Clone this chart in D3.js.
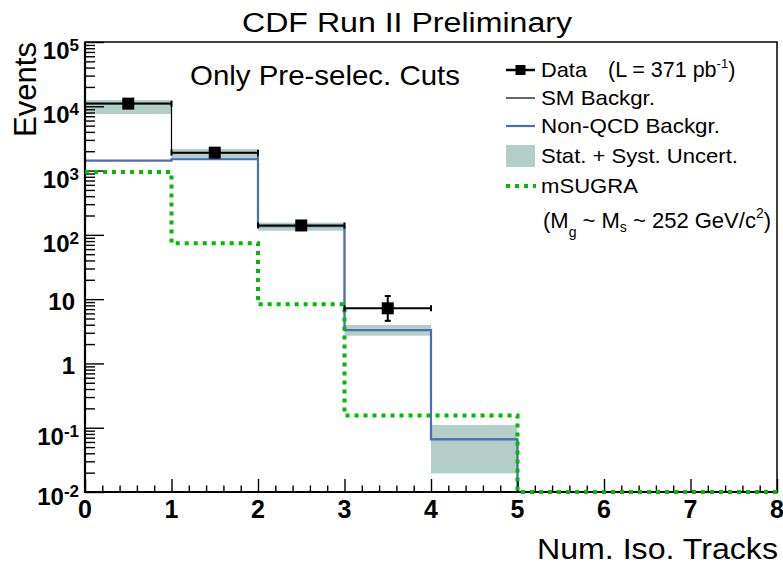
<!DOCTYPE html>
<html>
<head>
<meta charset="utf-8">
<script src="https://cdn.jsdelivr.net/npm/d3@7"></script>
<style>
  html, body { margin: 0; padding: 0; background: #fff; }
  svg { display: block; font-family: "Liberation Sans", Arial, Helvetica, sans-serif; }
</style>
</head>
<body>
<svg id="chart" width="783" height="568"></svg>
<script>
// ---------------- data ----------------
const binEdges = [0, 1, 2, 3, 4, 5, 6, 7, 8];
const dataValues = [11000, 1900, 140, 7.2];
const dataErrLow = [110, 44, 12, 2.6];
const dataErrHigh = [110, 44, 12, 4.0];
const smBackground = [11000, 1900, 137, 3.3, 0.066, 0, 0, 0];
const nonQcdBackground = [1425, 1500, 137, 3.3, 0.066, 0, 0, 0];
const uncertLow = [7600, 1513, 116, 2.7, 0.0195];
const uncertHigh = [12500, 2170, 155, 3.97, 0.11];
const msugra = [950, 74, 8.3, 0.155, 0.155, 0, 0, 0];
const xTickValues = [0, 1, 2, 3, 4, 5, 6, 7, 8];
const xTickLabels = ["0", "1", "2", "3", "4", "5", "6", "7", "8"];
const yTickValues = [1e-2, 1e-1, 1, 10, 1e2, 1e3, 1e4, 1e5];
const yTickBase = ["10", "10", "1", "10", "10", "10", "10", "10"];
const yTickExp = ["-2", "-1", "", "", "2", "3", "4", "5"];
const legendLabels = ["Data", "SM Backgr.", "Non-QCD Backgr.", "Stat. + Syst. Uncert.", "mSUGRA"];

// ---------------- layout ----------------
const L = 85, R = 777, T = 42, B = 492;
const yMin = 1e-2, yMax = 1e5;
const x = d3.scaleLinear().domain([0, 8]).range([L, R]);
const y = d3.scaleLog().domain([yMin, yMax]).range([B, T]);
const yc = v => y(Math.max(v, yMin));

const blue = "#4a6db5", green = "#00bb00", band = "#b3cfc7";
const svg = d3.select("#chart");

svg.append("defs").append("clipPath").attr("id", "plot")
  .append("rect").attr("x", L).attr("y", T - 1).attr("width", R - L).attr("height", B - T + 2);

function stepPath(vals) {
  let d = "";
  vals.forEach((v, i) => {
    const yy = yc(v);
    d += (i === 0 ? "M" : "L") + x(binEdges[i]) + "," + yy + "L" + x(binEdges[i + 1]) + "," + yy;
  });
  return d;
}

const plot = svg.append("g").attr("clip-path", "url(#plot)");

// uncertainty band
plot.selectAll("rect.band").data(uncertLow).enter().append("rect")
  .attr("class", "band")
  .attr("x", (d, i) => x(binEdges[i]))
  .attr("width", (d, i) => x(binEdges[i + 1]) - x(binEdges[i]))
  .attr("y", (d, i) => y(uncertHigh[i]))
  .attr("height", (d, i) => y(uncertLow[i]) - y(uncertHigh[i]))
  .attr("fill", band);

// SM background
plot.append("path").attr("d", stepPath(smBackground)).attr("fill", "none")
  .attr("stroke", "#000").attr("stroke-width", 1.2);
// Non-QCD
plot.append("path").attr("d", stepPath(nonQcdBackground)).attr("fill", "none")
  .attr("stroke", blue).attr("stroke-width", 2.2);

// ---------------- axes ----------------
const yMinor = [];
for (let e = -2; e < 5; e++) for (let k = 2; k <= 9; k++) yMinor.push(k * Math.pow(10, e));
const xMinor = [];
for (let i = 0; i < 8; i++) for (let k = 1; k <= 4; k++) xMinor.push(i + k * 0.2);

const yAxMaj = svg.append("g").attr("transform", `translate(${L},0)`)
  .call(d3.axisRight(y).tickValues(yTickValues).tickSize(19).tickFormat(""));
const yAxMin = svg.append("g").attr("transform", `translate(${L},0)`)
  .call(d3.axisRight(y).tickValues(yMinor).tickSize(10).tickFormat(""));
const xAxMaj = svg.append("g").attr("transform", `translate(0,${B})`)
  .call(d3.axisTop(x).tickValues(xTickValues).tickSize(13).tickFormat(""));
const xAxMin = svg.append("g").attr("transform", `translate(0,${B})`)
  .call(d3.axisTop(x).tickValues(xMinor).tickSize(6.5).tickFormat(""));
[yAxMaj, yAxMin, xAxMaj, xAxMin].forEach(g => {
  g.select(".domain").remove();
  g.selectAll("line").attr("stroke", "#000").attr("stroke-width", 1.4);
});

// frame
svg.append("rect").attr("x", L).attr("y", T).attr("width", R - L).attr("height", B - T)
  .attr("fill", "none").attr("stroke", "#000").attr("stroke-width", 1.5);
svg.append("line").attr("x1", L).attr("x2", L).attr("y1", T).attr("y2", B + 1)
  .attr("stroke", "#000").attr("stroke-width", 2.2);
svg.append("line").attr("x1", L - 1).attr("x2", R + 1).attr("y1", B).attr("y2", B)
  .attr("stroke", "#000").attr("stroke-width", 2.2);

// mSUGRA
svg.append("path").attr("d", stepPath(msugra)).attr("fill", "none")
  .attr("stroke", green).attr("stroke-width", 4).attr("stroke-dasharray", "4,5");

// data points
const dg = svg.append("g");
dataValues.forEach((v, i) => {
  const x0 = x(binEdges[i]), x1 = x(binEdges[i + 1]), xm = (x0 + x1) / 2, yy = y(v);
  const yLo = y(v - dataErrLow[i]), yHi = y(v + dataErrHigh[i]);
  dg.append("line").attr("x1", x0).attr("x2", x1).attr("y1", yy).attr("y2", yy)
    .attr("stroke", "#000").attr("stroke-width", 2);
  [x0, x1].forEach(xx => dg.append("line").attr("x1", xx).attr("x2", xx)
    .attr("y1", yy - 3).attr("y2", yy + 3).attr("stroke", "#000").attr("stroke-width", 2));
  dg.append("line").attr("x1", xm).attr("x2", xm).attr("y1", yHi).attr("y2", yLo)
    .attr("stroke", "#000").attr("stroke-width", 2);
  [yHi, yLo].forEach(yv => dg.append("line").attr("x1", xm - 3).attr("x2", xm + 3)
    .attr("y1", yv).attr("y2", yv).attr("stroke", "#000").attr("stroke-width", 2));
  dg.append("rect").attr("x", xm - 6).attr("y", yy - 6).attr("width", 12).attr("height", 12)
    .attr("fill", "#000");
});

// ---------------- tick labels ----------------
xTickValues.forEach((v, i) => {
  svg.append("text").attr("x", x(v)).attr("y", 518).attr("text-anchor", "middle")
    .attr("font-size", 25).attr("font-weight", "bold").text(xTickLabels[i]);
});
yTickValues.forEach((v, i) => {
  const hasExp = yTickExp[i] !== "";
  const off = hasExp ? (v === 1e-2 ? 13 : 17) : 11;
  const t = svg.append("text").attr("x", hasExp ? 79 : 75).attr("y", y(v) + off)
    .attr("text-anchor", "end").attr("font-weight", "bold").attr("font-size", 24);
  t.append("tspan").text(yTickBase[i]);
  if (hasExp) t.append("tspan").attr("font-size", 17).attr("dy", -8).text(yTickExp[i]);
});

// ---------------- titles ----------------
svg.append("text").attr("x", 242).attr("y", 32).attr("font-size", 27)
  .attr("textLength", 330).attr("lengthAdjust", "spacingAndGlyphs")
  .text("CDF Run II Preliminary");
svg.append("text").attr("x", 190).attr("y", 85).attr("font-size", 28)
  .attr("textLength", 270).attr("lengthAdjust", "spacingAndGlyphs")
  .text("Only Pre-selec. Cuts");
svg.append("text").attr("x", 778).attr("y", 559).attr("text-anchor", "end").attr("font-size", 30)
  .attr("textLength", 241).attr("lengthAdjust", "spacingAndGlyphs")
  .text("Num. Iso. Tracks");
svg.append("text").attr("transform", "translate(36,42) rotate(-90)").attr("text-anchor", "end")
  .attr("font-size", 31).attr("textLength", 95).attr("lengthAdjust", "spacingAndGlyphs")
  .text("Events");

// ---------------- legend ----------------
const lg = svg.append("g");
const lx0 = 506, lx1 = 535, tx = 541;
const rowY = [70, 98, 126, 156, 186];
const baseY = [77, 105, 133, 163, 193];
const textLens = [46, 114, 179, 197, 97];
// data symbol
lg.append("line").attr("x1", lx0).attr("x2", lx1).attr("y1", rowY[0]).attr("y2", rowY[0])
  .attr("stroke", "#000").attr("stroke-width", 2.5);
lg.append("rect").attr("x", (lx0 + lx1) / 2 - 5).attr("y", rowY[0] - 5).attr("width", 10).attr("height", 10).attr("fill", "#000");
lg.append("line").attr("x1", lx0).attr("x2", lx1).attr("y1", rowY[1]).attr("y2", rowY[1])
  .attr("stroke", "#000").attr("stroke-width", 1.2);
lg.append("line").attr("x1", lx0).attr("x2", lx1).attr("y1", rowY[2]).attr("y2", rowY[2])
  .attr("stroke", blue).attr("stroke-width", 2.2);
lg.append("rect").attr("x", lx0).attr("y", 145).attr("width", lx1 - lx0).attr("height", 22).attr("fill", band);
lg.append("line").attr("x1", lx0).attr("x2", lx1 + 1).attr("y1", rowY[4]).attr("y2", rowY[4])
  .attr("stroke", green).attr("stroke-width", 4).attr("stroke-dasharray", "4,5");

legendLabels.forEach((s, i) => {
  lg.append("text").attr("x", tx).attr("y", baseY[i]).attr("font-size", 21)
    .attr("textLength", textLens[i]).attr("lengthAdjust", "spacingAndGlyphs").text(s);
});
const lum = lg.append("text").attr("x", 608).attr("y", baseY[0]).attr("font-size", 21.5);
lum.append("tspan").text("(L = 371 pb");
lum.append("tspan").attr("font-size", 13).attr("dy", -9).text("-1");
lum.append("tspan").attr("dy", 9).text(")");

const ml = lg.append("text").attr("x", 543).attr("y", 228).attr("font-size", 22);
ml.append("tspan").text("(M");
ml.append("tspan").attr("font-size", 14).attr("dy", 9).text("g");
ml.append("tspan").attr("dy", -9).text(" ~ M");
ml.append("tspan").attr("font-size", 14).attr("dy", 4).text("s");
ml.append("tspan").attr("dy", -4).text(" ~ 252 GeV/c");
ml.append("tspan").attr("font-size", 14).attr("dy", -10).text("2");
ml.append("tspan").attr("dy", 10).text(")");
</script>
</body>
</html>
